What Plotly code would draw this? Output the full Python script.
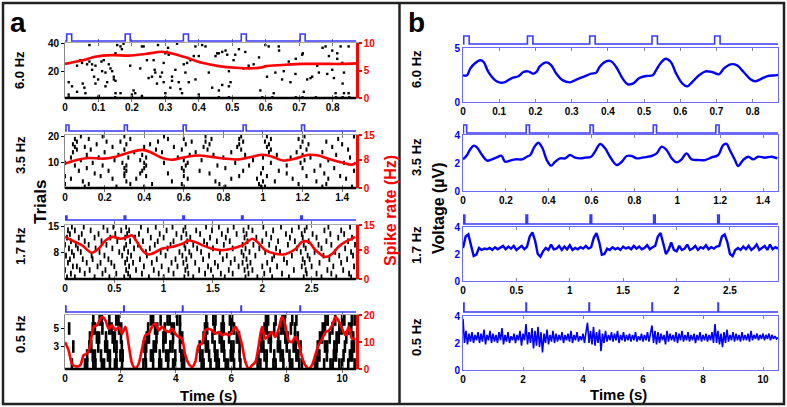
import numpy as np
import plotly.graph_objects as go

W, H = 787, 407
FONT = "Liberation Sans, Arial, sans-serif"
BLUE = "#0000ff"
STIM_BLUE = "#3a3aff"
BOXBLUE = "#6a6aff"
RED = "#ff0000"

# ---------------- data ----------------
row_labels = ["6.0 Hz", "3.5 Hz", "1.7 Hz", "0.5 Hz"]
x_max = [0.87, 1.47, 2.95, 10.5]
x_ticks = [
    [0, 0.1, 0.2, 0.3, 0.4, 0.5, 0.6, 0.7, 0.8],
    [0, 0.2, 0.4, 0.6, 0.8, 1, 1.2, 1.4],
    [0, 0.5, 1, 1.5, 2, 2.5],
    [0, 2, 4, 6, 8, 10],
]
trial_range = [[0.5, 40.5], [0.5, 20.5], [0.5, 15.5], [0.5, 6.5]]
trial_ticks = [[20, 40], [10, 20], [8, 15], [3, 5]]
rate_range = [[0, 10], [0, 15], [0, 15], [0, 20]]
rate_ticks = [[0, 5, 10], [0, 8, 15], [0, 8, 15], [0, 10, 20]]
volt_range = [[0, 5], [0, 4], [0, 4], [0, 4]]
volt_ticks = [[0, 5], [0, 2, 4], [0, 2, 4], [0, 2, 4]]

# stimulus pulse onsets (s) and pulse width (s)
pulses_a = [
    [0.005, 0.18, 0.354, 0.527, 0.703],
    [0.005, 0.3, 0.597, 0.9, 1.195],
    [0.005, 0.6, 1.195, 1.79, 2.39],
    [0.02, 2.12, 4.24, 6.35, 8.48],
]
pulses_b = [
    [0.002, 0.178, 0.35, 0.522, 0.695],
    [0.002, 0.295, 0.593, 0.888, 1.18],
    [0.002, 0.59, 1.19, 1.785, 2.385],
    [0.02, 2.1, 4.2, 6.3, 8.5],
]
pulse_width = 0.015

# --- raster, 6.0 Hz: spike times and trial numbers
r60_t = [.073, .036, .011, .021, .036, .053, .058, .061, .046, .051,
         .066, .073, .081, .081, .091, .087, .091, .099, .109, .111,
         .116, .121, .126, .121, .131, .136, .141, .146, .146, .151,
         .151, .156, .166, .170, .175, .166, .195, .205, .210, .225,
         .230, .235, .245, .250, .260, .265, .268, .270, .278, .275,
         .285, .290, .295, .295, .300, .305, .308, .310, .315, .320,
         .320, .330, .335, .340, .345, .350, .355, .365, .375, .385,
         .390, .400, .410, .420, .430, .450, .455, .460, .470, .480,
         .485, .490, .495, .509, .504, .534, .539, .549, .564, .584,
         .599, .604, .609, .624, .629, .639, .649, .654, .669, .674,
         .689, .709, .711, .714, .724, .734, .739, .754, .759, .779,
         .784, .789, .799, .799, .804, .809, .814, .814, .824, .829,
         .834, .834, .848, .848, .011, .101, .151, .200, .230, .300,
         .400, .460, .490, .390, .360, .370,
         .011, .10, .15, .20, .23, .30, .40, .46, .49, .59, .62, .69, .71, .75, .81, .83, .85,
         .52, .58, .64, .69, .77, .83, .44, .47]
r60_tr = [39, 24, 12, 9, 5, 11, 8, 4, 28, 26,
          25, 27, 25, 21, 24, 16, 11, 14, 27, 20,
          28, 19, 12, 9, 25, 22, 20, 16, 14, 33,
          13, 39, 38, 36, 40, 4, 24, 6, 4, 22,
          38, 38, 28, 15, 16, 28, 21, 19, 39, 11,
          16, 19, 12, 26, 33, 34, 37, 32, 8, 13,
          16, 21, 40, 12, 7, 4, 25, 26, 28, 31,
          38, 31, 39, 38, 19, 31, 33, 33, 34, 35,
          32, 20, 12, 32, 28, 22, 34, 24, 25, 6,
          39, 16, 38, 4, 19, 38, 14, 20, 27, 12,
          18, 32, 33, 5, 14, 15, 16, 24, 19, 38,
          18, 31, 21, 35, 15, 4, 33, 29, 38, 26,
          19, 4, 4, 38, 3, 2, 4, 3, 2, 4,
          3, 6, 9, 14, 19, 12,
          1, 1, 1, 1, 1, 1, 1, 1, 1, 1, 1, 1, 1, 1, 1, 1, 1,
          36, 30, 35, 29, 37, 11, 8, 10]

# --- raster, 3.5 Hz: spike times per trial (trial 1 first)
r35 = [
    [0.1, 0.26, 0.4, 0.6, 0.81, 0.99, 1.01, 1.3, 1.45],
    [0.0, 0.12, 0.33, 0.44, 0.59, 0.78, 0.98, 1.18, 1.32],
    [0.09, 0.31, 0.54, 0.76, 1.0, 1.06, 1.27],
    [0.03, 0.24, 0.36, 0.62, 0.84, 0.97, 1.15, 1.33, 1.42],
    [0.0, 0.18, 0.3, 0.41, 0.6, 0.88, 1.02, 1.22, 1.39],
    [0.15, 0.3, 0.38, 0.52, 0.73, 0.99, 1.12, 1.31],
    [0.07, 0.22, 0.31, 0.39, 0.6, 0.68, 0.9, 1.08, 1.26, 1.46],
    [0.11, 0.3, 0.4, 0.59, 0.81, 1.0, 1.2, 1.36],
    [0.05, 0.19, 0.31, 0.41, 0.61, 0.77, 0.93, 1.12, 1.29],
    [0.0, 0.14, 0.29, 0.4, 0.5, 0.62, 0.86, 1.04, 1.19, 1.41],
    [0.08, 0.25, 0.38, 0.6, 0.69, 0.95, 1.21, 1.33],
    [0.03, 0.17, 0.32, 0.41, 0.57, 0.8, 1.0, 1.14, 1.24, 1.44],
    [0.11, 0.27, 0.39, 0.63, 0.75, 0.91, 1.07, 1.2, 1.37],
    [0.04, 0.2, 0.35, 0.49, 0.66, 0.84, 1.03, 1.17, 1.3],
    [0.06, 0.13, 0.3, 0.46, 0.59, 0.72, 0.89, 1.04, 1.22, 1.43],
    [0.05, 0.1, 0.24, 0.4, 0.55, 0.7, 0.87, 1.02, 1.19, 1.35],
    [0.04, 0.16, 0.31, 0.43, 0.61, 0.73, 0.88, 1.03, 1.23, 1.4],
    [0.06, 0.21, 0.28, 0.47, 0.64, 0.71, 0.9, 1.01, 1.2, 1.32],
    [0.05, 0.12, 0.33, 0.52, 0.6, 0.74, 0.88, 1.04, 1.18, 1.38],
    [0.08, 0.19, 0.3, 0.5, 0.71, 0.89, 1.02, 1.21, 1.46],
]

# --- raster, 1.7 Hz
r17 = [
    [0.02, 0.1, 0.3, 0.45, 0.6, 0.66, 0.85, 1.0, 1.21, 1.3, 1.5, 1.62, 1.83, 1.95, 2.1, 2.27, 2.42, 2.6, 2.75, 2.9],
    [0.06, 0.2, 0.38, 0.52, 0.64, 0.78, 0.95, 1.1, 1.25, 1.42, 1.58, 1.7, 1.86, 2.02, 2.2, 2.45, 2.55, 2.7, 2.88],
    [0.0, 0.15, 0.25, 0.41, 0.62, 0.72, 0.9, 1.05, 1.22, 1.36, 1.48, 1.66, 1.82, 1.9, 2.08, 2.32, 2.44, 2.66, 2.82],
    [0.08, 0.12, 0.33, 0.5, 0.65, 0.8, 0.98, 1.14, 1.24, 1.45, 1.55, 1.76, 1.85, 2.0, 2.15, 2.4, 2.5, 2.72, 2.93],
    [0.03, 0.22, 0.36, 0.47, 0.61, 0.69, 0.88, 1.08, 1.2, 1.32, 1.52, 1.68, 1.8, 1.88, 2.05, 2.25, 2.43, 2.58, 2.8],
    [0.05, 0.18, 0.28, 0.44, 0.63, 0.76, 0.93, 1.12, 1.23, 1.4, 1.6, 1.72, 1.84, 2.1, 2.22, 2.41, 2.48, 2.68, 2.86],
    [0.01, 0.09, 0.27, 0.4, 0.58, 0.67, 0.83, 1.02, 1.19, 1.28, 1.46, 1.64, 1.81, 1.93, 2.12, 2.3, 2.46, 2.62, 2.78, 2.92],
    [0.07, 0.16, 0.35, 0.55, 0.64, 0.82, 0.97, 1.16, 1.26, 1.38, 1.57, 1.79, 1.87, 2.03, 2.18, 2.39, 2.53, 2.74, 2.9],
    [0.04, 0.13, 0.31, 0.48, 0.6, 0.7, 0.86, 1.04, 1.22, 1.34, 1.5, 1.7, 1.83, 1.97, 2.14, 2.35, 2.44, 2.6, 2.84],
    [0.0, 0.11, 0.24, 0.42, 0.62, 0.74, 0.91, 1.07, 1.21, 1.3, 1.44, 1.61, 1.8, 1.91, 2.07, 2.26, 2.42, 2.57, 2.7, 2.94],
    [0.06, 0.2, 0.37, 0.53, 0.66, 0.79, 0.94, 1.1, 1.24, 1.41, 1.54, 1.67, 1.85, 2.0, 2.16, 2.33, 2.47, 2.65, 2.87],
    [0.02, 0.14, 0.3, 0.46, 0.61, 0.71, 0.87, 1.0, 1.18, 1.27, 1.47, 1.63, 1.82, 1.94, 2.09, 2.28, 2.41, 2.55, 2.77, 2.91],
    [0.05, 0.17, 0.34, 0.51, 0.63, 0.75, 0.96, 1.13, 1.23, 1.37, 1.59, 1.74, 1.84, 2.04, 2.24, 2.4, 2.51, 2.69, 2.83],
    [0.03, 0.1, 0.26, 0.43, 0.57, 0.65, 0.84, 1.03, 1.2, 1.33, 1.49, 1.65, 1.81, 1.9, 2.11, 2.3, 2.43, 2.63, 2.8],
    [0.07, 0.19, 0.39, 0.49, 0.62, 0.77, 0.92, 1.09, 1.22, 1.43, 1.56, 1.71, 1.86, 2.01, 2.19, 2.37, 2.45, 2.67, 2.89],
]

# --- raster, 0.5 Hz
r05 = [
    [0.25, 0.72, 0.8, 1.02, 1.1, 1.33, 1.41, 1.62, 1.8, 1.86, 2.06, 2.83, 2.92, 3.18, 3.4, 3.47, 3.72, 3.9,
     3.97, 4.22, 4.3, 4.93, 5.0, 5.25, 5.47, 5.55, 5.8, 5.88, 6.1, 6.33, 6.95, 7.05, 7.27, 7.52, 7.6, 7.88,
     8.12, 8.2, 8.45, 8.55, 9.02, 9.1, 9.35, 9.58, 9.66, 9.9, 10.0, 10.22, 10.45],
    [0.8, 1.0, 1.08, 1.3, 1.55, 1.62, 1.85, 2.0, 2.08, 2.9, 3.1, 3.17, 3.42, 3.65, 3.73, 3.98, 4.2, 4.28,
     4.88, 4.96, 5.2, 5.42, 5.5, 5.75, 5.98, 6.06, 6.3, 6.98, 7.2, 7.28, 7.55, 7.78, 7.86, 8.1, 8.35, 8.42,
     9.1, 9.18, 9.45, 9.7, 9.78, 10.05, 10.28, 10.36],
    [0.3, 0.88, 0.95, 1.2, 1.45, 1.52, 1.78, 1.86, 2.05, 2.85, 2.93, 3.2, 3.28, 3.55, 3.8, 3.88, 4.15,
     4.86, 5.08, 5.16, 5.4, 5.65, 5.73, 6.0, 6.08, 6.3, 7.08, 7.16, 7.42, 7.68, 7.76, 8.0, 8.25, 8.33, 8.5,
     9.12, 9.38, 9.46, 9.72, 9.8, 10.1, 10.35, 10.43],
    [0.9, 1.15, 1.23, 1.48, 1.72, 1.8, 2.02, 2.95, 3.03, 3.3, 3.55, 3.63, 3.9, 4.15, 4.23,
     5.0, 5.08, 5.32, 5.58, 5.66, 5.92, 6.2, 6.28, 7.12, 7.35, 7.43, 7.7, 7.95, 8.03, 8.3, 8.4,
     9.2, 9.28, 9.55, 9.8, 9.88, 10.15, 10.4],
    [0.15, 1.0, 1.08, 1.35, 1.6, 1.68, 1.95, 2.03, 3.0, 3.25, 3.33, 3.6, 3.85, 3.93, 4.15,
     5.05, 5.13, 5.4, 5.65, 5.73, 6.0, 6.1, 7.2, 7.28, 7.55, 7.8, 7.88, 8.15, 8.3,
     9.3, 9.38, 9.65, 9.9, 9.98, 10.25, 10.33],
    [1.02, 1.25, 1.33, 1.6, 1.85, 1.93, 3.1, 3.18, 3.45, 3.7, 3.78, 4.05, 4.15,
     5.1, 5.35, 5.43, 5.7, 5.95, 6.03, 7.25, 7.33, 7.6, 7.85, 7.93, 8.2, 8.35,
     9.4, 9.48, 9.75, 10.0, 10.08, 10.35, 10.45],
]

# --- spike-rate curves (Hz)
rate60_t = [0, 0.05, 0.09, 0.14, 0.19, 0.24, 0.29, 0.32, 0.36, 0.41, 0.46, 0.51, 0.56, 0.59, 0.60, 0.65, 0.71, 0.77, 0.83, 0.87]
rate60_v = [6.2, 6.8, 7.5, 7.8, 7.7, 8.0, 8.4, 8.1, 7.4, 6.4, 5.8, 5.5, 5.4, 5.6, 5.8, 6.0, 6.2, 6.2, 6.2, 6.3]
rate35_t = [0, 0.05, 0.12, 0.19, 0.25, 0.32, 0.39, 0.43, 0.49, 0.54, 0.61, 0.68, 0.74, 0.81, 0.88, 0.94, 1.00,
            1.05, 1.10, 1.16, 1.23, 1.28, 1.33, 1.40, 1.45, 1.47]
rate35_v = [6.9, 7.8, 8.5, 8.3, 8.8, 10.0, 10.8, 10.2, 8.5, 8.0, 8.8, 9.2, 8.8, 8.3, 8.1, 8.8, 9.4,
            8.8, 7.8, 8.3, 9.4, 9.2, 8.3, 7.2, 6.6, 7.2]
rate17_t = [0, 0.07, 0.17, 0.27, 0.34, 0.41, 0.48, 0.56, 0.63, 0.68, 0.73, 0.80, 0.85, 0.92, 0.98, 1.08, 1.19,
            1.25, 1.32, 1.39, 1.49, 1.59, 1.69, 1.80, 1.90, 1.95, 2.03, 2.13, 2.23, 2.34, 2.40, 2.47, 2.54,
            2.64, 2.71, 2.77, 2.84, 2.91, 2.94]
rate17_v = [11.7, 10.7, 9.4, 7.3, 8.4, 10.7, 11.7, 11.2, 11.7, 12.1, 10.3, 7.5, 6.8, 7.5, 8.4, 8.9, 9.8,
            10.7, 10.3, 9.4, 8.4, 8.0, 8.4, 9.4, 11.2, 10.3, 8.0, 7.0, 6.9, 8.4, 10.3, 10.3, 8.0,
            6.1, 7.0, 8.9, 10.3, 11.2, 11.7]
rate05_t = [0, 0.13, 0.25, 0.37, 0.55, 0.67, 0.79, 0.91, 1.03, 1.15, 1.28, 1.34, 1.46, 1.58, 1.70, 1.82, 1.94,
            2.06, 2.18, 2.30, 2.42, 2.54, 2.66, 2.78, 2.90, 3.02, 3.14, 3.26, 3.38, 3.50, 3.62, 3.74, 3.86,
            3.98, 4.10, 4.22, 4.34, 4.46, 4.58, 4.70, 4.82, 4.94, 5.06, 5.18, 5.31, 5.43, 5.55, 5.67, 5.79,
            5.91, 6.03, 6.15, 6.27, 6.39, 6.51, 6.63, 6.75, 6.87, 6.99, 7.11, 7.23, 7.35, 7.47, 7.59, 7.71,
            7.83, 7.95, 8.07, 8.19, 8.31, 8.43, 8.55, 8.67, 8.79, 8.91, 9.03, 9.15, 9.28, 9.40, 9.52, 9.64,
            9.76, 9.88, 10.00, 10.12, 10.24, 10.36, 10.48]
rate05_v = [10.0, 6.9, 2.0, 1.0, 1.4, 5.1, 5.7, 8.8, 15.6, 16.2, 18.6, 19.3, 18.0, 14.9, 16.2, 14.3, 15.6,
            13.1, 15.6, 8.8, 2.0, 0.1, 2.0, 7.5, 12.5, 13.1, 15.6, 16.8, 14.3, 15.6, 14.3, 13.7, 14.9,
            13.1, 11.9, 11.2, 5.1, 2.0, 0.7, 2.6, 8.8, 9.4, 14.3, 14.9, 14.3, 13.1, 13.7, 12.5, 13.1,
            12.5, 13.7, 15.6, 13.1, 8.8, 2.6, 0.1, 1.4, 2.6, 8.8, 15.6, 11.2, 12.5, 13.7, 11.9, 14.9,
            19.3, 16.2, 10.6, 10.0, 11.9, 9.4, 4.5, 1.4, 0.1, 1.4, 5.1, 8.8, 11.2, 13.7, 14.3, 16.2,
            19.3, 17.6, 14.9, 12.5, 15.6, 11.2, 11.2]

# --- LFP voltage traces (uV)
b60_t = [0, 0.011, 0.02, 0.034, 0.048, 0.057, 0.07, 0.089, 0.103, 0.116, 0.135, 0.153, 0.167, 0.18, 0.194,
         0.203, 0.212, 0.231, 0.244, 0.258, 0.276, 0.295, 0.313, 0.336, 0.354, 0.368, 0.377, 0.395, 0.409,
         0.423, 0.441, 0.455, 0.469, 0.487, 0.505, 0.524, 0.533, 0.546, 0.56, 0.574, 0.588, 0.606, 0.62,
         0.633, 0.652, 0.67, 0.688, 0.707, 0.72, 0.739, 0.757, 0.775, 0.794, 0.807, 0.821, 0.839, 0.862, 0.87]
b60_v = [2.47, 2.47, 3.09, 3.61, 3.86, 3.70, 2.78, 2.0, 1.79, 1.85, 2.22, 2.38, 2.78, 2.84, 2.62,
         2.78, 3.30, 3.67, 3.39, 2.62, 2.0, 1.82, 2.07, 2.38, 2.62, 2.72, 3.24, 3.77, 3.77,
         3.24, 2.16, 1.64, 1.70, 2.22, 2.41, 2.47, 2.93, 3.61, 4.01, 3.70, 2.68, 1.70, 1.45,
         1.85, 2.47, 2.84, 2.78, 2.56, 3.09, 3.49, 3.39, 2.78, 2.10, 1.91, 2.10, 2.38, 2.47, 2.5]
b35_t = [0, 0.019, 0.034, 0.05, 0.065, 0.089, 0.112, 0.135, 0.158, 0.179, 0.197, 0.22, 0.244, 0.275, 0.298,
         0.314, 0.334, 0.352, 0.371, 0.391, 0.411, 0.43, 0.453, 0.477, 0.5, 0.523, 0.547, 0.57, 0.598, 0.616,
         0.64, 0.663, 0.686, 0.717, 0.741, 0.764, 0.787, 0.811, 0.842, 0.88, 0.904, 0.927, 0.95, 0.974, 0.997,
         1.02, 1.043, 1.067, 1.098, 1.129, 1.16, 1.191, 1.214, 1.23, 1.245, 1.269, 1.284, 1.307, 1.331, 1.354,
         1.377, 1.408, 1.44, 1.467]
b35_v = [2.26, 2.57, 2.98, 3.24, 3.12, 2.57, 2.17, 2.26, 2.40, 2.52, 2.09, 2.17, 2.26, 2.26, 2.45,
         2.57, 3.17, 3.45, 3.05, 2.21, 1.81, 2.09, 2.33, 2.33, 2.57, 2.38, 2.33, 2.38, 2.45, 2.81,
         3.36, 3.05, 2.45, 1.86, 2.09, 2.50, 2.50, 2.33, 2.40, 2.50, 2.69, 3.17, 2.93, 2.33, 2.05,
         2.26, 2.69, 2.26, 2.21, 2.21, 2.40, 2.57, 3.28, 3.36, 2.93, 2.21, 1.79, 2.21, 2.45, 2.26,
         2.45, 2.38, 2.45, 2.33]
b17_dt = 0.025
b17_v = [2.45, 3.3, 3.45, 2.7, 1.85, 1.95, 2.45, 2.3, 2.4, 2.35, 2.45, 2.3, 2.5, 2.35, 2.45, 2.6, 2.35, 2.55,
         2.4, 2.6, 2.3, 2.45, 2.6, 2.35,
         2.55, 3.3, 3.6, 3.0, 2.0, 1.8, 2.2, 2.45, 2.3, 2.7, 2.35, 2.4, 2.6, 2.3, 2.55, 2.35, 2.65, 2.3,
         2.45, 2.35, 2.5, 2.4, 2.6, 2.4,
         2.5, 3.2, 3.55, 2.9, 1.95, 2.0, 2.4, 2.3, 2.5, 2.35, 2.45, 2.3, 2.55, 2.4, 2.5, 2.35, 2.6, 2.4,
         2.55, 2.35, 2.45, 2.65, 2.35, 2.5,
         2.6, 3.3, 3.55, 2.8, 2.0, 2.3, 2.85, 2.3, 2.2, 2.6, 2.3, 2.4, 2.7, 2.3, 2.4, 2.6, 2.3, 2.5,
         2.4, 2.65, 2.35, 2.5, 2.4, 2.55,
         2.6, 3.3, 3.45, 2.9, 2.0, 1.85, 2.3, 2.45, 2.3, 2.55, 2.35, 2.6, 2.3, 2.45, 2.7, 2.3, 2.45, 2.6,
         2.3, 2.7, 2.35, 2.5, 2.4]
b05_dt = 0.05
b05_v = [3.8, 2.0, 2.9, 1.9, 2.7, 2.1, 2.8, 2.0, 2.6, 2.2,
         2.8, 2.0, 2.7, 2.1, 3.0, 1.9, 2.6, 2.2, 2.9, 2.0,
         2.7, 2.1, 2.6, 2.0, 2.8, 2.2, 3.1, 1.9, 2.6, 2.1,
         2.8, 2.0, 2.5, 2.2, 2.7, 2.0, 2.6, 2.2, 2.9, 1.8,
         2.7, 2.2, 3.4, 1.9, 2.8, 2.0, 3.1, 1.6, 2.9, 1.8,
         3.2, 1.7, 2.8, 1.3, 2.7, 2.0, 3.0, 1.9, 2.6, 2.1,
         2.9, 2.0, 2.7, 2.1, 2.6, 2.2, 2.8, 2.0, 2.6, 2.2,
         2.7, 2.1, 2.9, 2.0, 2.6, 2.2, 2.8, 2.1, 2.5, 2.2,
         2.7, 2.0, 2.8, 3.5, 2.0, 2.9, 1.9, 3.2, 1.8, 2.8,
         2.0, 3.0, 1.4, 2.7, 2.0, 2.9, 2.1, 2.6, 2.2, 2.8,
         2.1, 2.7, 2.2, 2.9, 2.0, 2.6, 2.2, 2.8, 2.1, 2.6,
         2.2, 2.7, 2.1, 2.6, 2.2, 2.8, 2.1, 2.5, 2.2, 2.7,
         2.1, 2.6, 2.2, 2.8, 2.1, 2.7, 3.3, 2.0, 2.9, 1.9,
         2.8, 2.0, 2.7, 2.2, 2.6, 1.9, 2.9, 2.1, 2.7, 2.2,
         2.6, 2.1, 2.8, 2.0, 2.7, 2.2, 2.9, 2.1, 2.6, 2.2,
         2.8, 2.1, 2.6, 2.2, 2.7, 2.0, 2.6, 2.2, 2.8, 2.1,
         2.6, 2.2, 2.7, 2.1, 2.6, 2.2, 2.8, 2.0, 3.4, 2.0,
         2.9, 1.9, 2.7, 1.7, 2.8, 2.0, 3.0, 2.1, 2.6, 2.2,
         2.8, 2.1, 2.7, 2.2, 2.6, 2.1, 2.8, 2.2, 2.6, 2.2,
         2.7, 2.1, 2.9, 2.2, 2.6, 2.3, 2.7, 2.2, 2.6, 2.3,
         2.7, 2.2, 2.6, 2.3, 2.7, 2.2, 2.6, 2.3, 2.5, 2.3, 2.4]


def flatten(per_trial):
    xs, ys = [], []
    for k, times in enumerate(per_trial, start=1):
        xs += times
        ys += [k] * len(times)
    return xs, ys


r35_t, r35_tr = flatten(r35)
r17_t, r17_tr = flatten(r17)
r05_t, r05_tr = flatten(r05)
b17_t = list(np.arange(len(b17_v)) * b17_dt)
b05_t = list(np.arange(len(b05_v)) * b05_dt)

raster_t = [r60_t, r35_t, r17_t, r05_t]
raster_tr = [r60_tr, r35_tr, r17_tr, r05_tr]
rate_t = [rate60_t, rate35_t, rate17_t, rate05_t]
rate_v = [rate60_v, rate35_v, rate17_v, rate05_v]
lfp_t = [b60_t, b35_t, b17_t, b05_t]
lfp_v = [b60_v, b35_v, b17_v, b05_v]

# ---------------- layout geometry (pixels) ----------------
A_X = (65, 356)
B_X = (463, 778)
A_AX = [(43, 98), (135, 188), (225, 279), (315, 369)]
A_ST = [(34, 41), (125, 131), (216, 220), (306, 312)]
B_AX = [(48, 102), (135, 191), (227, 281), (316, 370)]
B_ST = [(36, 44), (125, 133), (215, 224), (303, 312)]
raster_marker = [
    dict(symbol="square", size=2.4, color="black", line=dict(width=0)),
    dict(symbol="line-ns", size=3, line=dict(width=2, color="black")),
    dict(symbol="line-ns", size=4, line=dict(width=1.8, color="black")),
    dict(symbol="line-ns", size=9, line=dict(width=2.6, color="black")),
]


def xdom(l, r):
    return [l / W, r / W]


def ydom(top, bot):
    return [1 - bot / H, 1 - top / H]


layout = dict(
    width=W, height=H, margin=dict(l=0, r=0, t=0, b=0, autoexpand=False),
    paper_bgcolor="white", plot_bgcolor="rgba(0,0,0,0)", showlegend=False,
    font=dict(family=FONT, color="black"),
)
traces, shapes, annotations = [], [], []
counter = {"x": 0, "y": 0}


def new_axis(kind):
    counter[kind] += 1
    n = counter[kind]
    aid = kind + ("" if n == 1 else str(n))
    layout[kind + "axis" + ("" if n == 1 else str(n))] = {}
    return aid


def ax(aid):
    return layout[aid[0] + "axis" + aid[1:]]


def tfont(color="black", size=10):
    return dict(family=FONT, size=size, color=color, weight="bold")


def stim_xy(pulses, tmax):
    xs, ys = [0], [0]
    for p in pulses:
        xs += [p, p, p + pulse_width, p + pulse_width]
        ys += [0, 1, 1, 0]
    xs.append(tmax)
    ys.append(0)
    return xs, ys


def add_stim(xa, px, st, pulses, tmax):
    xs_id, ys_id = new_axis("x"), new_axis("y")
    top, base = st
    h = base - top
    ax(xs_id).update(domain=xdom(*px), anchor=ys_id, matches=xa, visible=False)
    ax(ys_id).update(domain=ydom(top - 0.3 * h, base + 0.3 * h), anchor=xs_id,
                     range=[-0.3, 1.3], visible=False)
    sx, sy = stim_xy(pulses, tmax)
    traces.append(go.Scatter(x=sx, y=sy, mode="lines", line=dict(color=STIM_BLUE, width=1.6),
                             xaxis=xs_id, yaxis=ys_id, hoverinfo="skip"))


# ---------------- panel a ----------------
for i in range(4):
    xa, ya, yr = new_axis("x"), new_axis("y"), new_axis("y")
    top, bot = A_AX[i]
    ax(xa).update(domain=xdom(*A_X), anchor=ya, range=[0, x_max[i]], tickmode="array",
                  tickvals=x_ticks[i], ticks="inside", ticklen=3, tickcolor="#777",
                  showline=True, linecolor="#aaa", linewidth=1, mirror="allticks",
                  showgrid=False, zeroline=False, tickfont=tfont())
    ax(ya).update(domain=ydom(top, bot), anchor=xa, range=trial_range[i], tickmode="array",
                  tickvals=trial_ticks[i], ticks="outside", ticklen=3, tickcolor="black",
                  showline=True, linecolor="#888", linewidth=1, showgrid=False, zeroline=False,
                  tickfont=tfont())
    ax(yr).update(domain=ydom(top, bot), anchor=xa, overlaying=ya, side="right",
                  range=rate_range[i], tickmode="array", tickvals=rate_ticks[i],
                  ticks="outside", ticklen=3, tickwidth=2, tickcolor=RED, showline=True,
                  linecolor=RED, linewidth=2.5, showgrid=False, zeroline=False,
                  tickfont=tfont(RED))
    traces.append(go.Scatter(x=raster_t[i], y=raster_tr[i], mode="markers",
                             marker=raster_marker[i], xaxis=xa, yaxis=ya, hoverinfo="skip"))
    traces.append(go.Scatter(x=rate_t[i], y=rate_v[i], mode="lines",
                             line=dict(color=RED, width=2.6, shape="spline", smoothing=0.8),
                             xaxis=xa, yaxis=yr, hoverinfo="skip"))
    shapes.append(dict(type="line", xref=f"{xa} domain", yref=f"{ya} domain", x0=0, x1=1,
                       y0=0, y1=0, line=dict(color="black", width=2.5)))
    add_stim(xa, A_X, A_ST[i], pulses_a[i], x_max[i])

# ---------------- panel b ----------------
for i in range(4):
    xa, ya = new_axis("x"), new_axis("y")
    top, bot = B_AX[i]
    ax(xa).update(domain=xdom(*B_X), anchor=ya, range=[0, x_max[i]], tickmode="array",
                  tickvals=x_ticks[i], ticks="inside", ticklen=3, tickcolor="#888",
                  showline=True, linecolor=BOXBLUE, linewidth=1, mirror="allticks",
                  showgrid=False, zeroline=False, tickfont=tfont())
    ax(ya).update(domain=ydom(top, bot), anchor=xa, range=volt_range[i], tickmode="array",
                  tickvals=volt_ticks[i], ticks="", showline=True, linecolor=BOXBLUE,
                  linewidth=1, mirror=True, showgrid=False, zeroline=False,
                  tickfont=tfont(BLUE))
    spline = i < 2
    traces.append(go.Scatter(x=lfp_t[i], y=lfp_v[i], mode="lines",
                             line=dict(color=BLUE, width=2.4 if i < 3 else 1.6,
                                       shape="spline" if spline else "linear"),
                             xaxis=xa, yaxis=ya, hoverinfo="skip"))
    add_stim(xa, B_X, B_ST[i], pulses_b[i], x_max[i])


# ---------------- text ----------------
def ann(text, x, y, size, color="black", angle=0):
    annotations.append(dict(text=f"<b>{text}</b>", x=x / W, y=1 - y / H, xref="paper",
                            yref="paper", xanchor="center", yanchor="middle", showarrow=False,
                            textangle=angle, font=dict(family=FONT, size=size, color=color)))


ann("a", 18, 22, 28)
ann("b", 416, 22, 28)
for lab, y in zip(row_labels, [70, 155, 246, 334]):
    ann(lab, 20, y, 13, angle=-90)
for lab, y in zip(row_labels, [69, 157, 245, 337]):
    ann(lab, 416, y, 13, angle=-90)
ann("Trials", 40, 202, 17, angle=-90)
ann("Spike rate (Hz)", 390, 211, 16, color=RED, angle=-90)
ann("Voltage (µV)", 438, 208, 16, angle=-90)
ann("Time (s)", 208, 395, 15)
ann("Time (s)", 618, 394, 15)

# frame and divider
shapes.append(dict(type="rect", xref="paper", yref="paper", x0=3 / W, x1=784 / W,
                   y0=1 - 404 / H, y1=1 - 3 / H, line=dict(color="#222", width=2.5)))
shapes.append(dict(type="line", xref="paper", yref="paper", x0=399.5 / W, x1=399.5 / W,
                   y0=1 - 404 / H, y1=1 - 3 / H, line=dict(color="#222", width=2.5)))

layout["shapes"] = shapes
layout["annotations"] = annotations

fig = go.Figure(data=traces)
fig.update_layout(**layout)
fig.write_html("out.html", config={"displayModeBar": False},
               post_script="document.body.style.margin='0';document.body.style.overflow='hidden';")
